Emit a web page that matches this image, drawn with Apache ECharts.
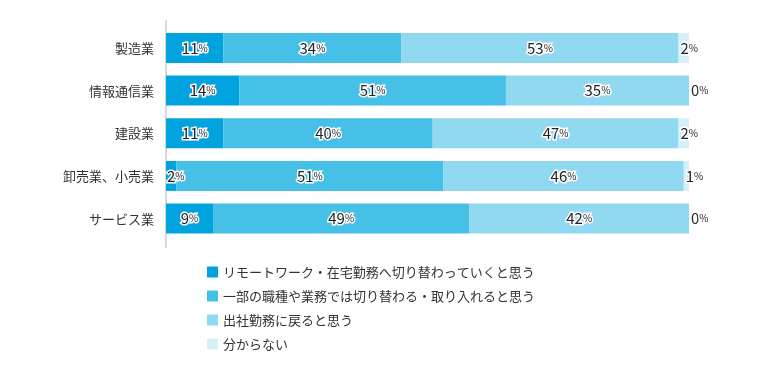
<!DOCTYPE html>
<html><head><meta charset="utf-8">
<script src="https://cdn.jsdelivr.net/npm/echarts@6/dist/echarts.min.js"></script>
<style>html,body{margin:0;padding:0;background:#fff}#c{width:760px;height:370px}</style>
</head><body><div id="c"></div>
<script>
var categories = ['製造業', '情報通信業', '建設業', '卸売業、小売業', 'サービス業'];
var seriesNames = ['リモートワーク・在宅勤務へ切り替わっていくと思う', '一部の職種や業務では切り替わる・取り入れると思う', '出社勤務に戻ると思う', '分からない'];
var remote = [11, 14, 11, 2, 9];
var partial = [34, 51, 40, 51, 49];
var office = [53, 35, 47, 46, 42];
var unknown = [2, 0, 2, 1, 0];
var colors = ['#00a3dd', '#47c0e8', '#91d8f1', '#d6f0fa'];

var font = '"Noto Sans CJK JP", "Noto Sans", sans-serif';
function makeSeries(name, vals, idx) {
  return {
    name: name, type: 'bar', stack: 'all', barWidth: 30,
    itemStyle: { color: colors[idx] },
    label: {
      show: true,
      position: idx === 3 ? 'insideLeft' : 'inside',
      distance: 2,
      formatter: '{n|{c}}{p|%}',
      textBorderColor: '#fff', textBorderWidth: 3,
      rich: {
        n: { fontSize: 15, color: '#222', fontFamily: font, textBorderColor: '#fff', textBorderWidth: 3 },
        p: { fontSize: 10, color: '#222', fontFamily: font, textBorderColor: '#fff', textBorderWidth: 3 }
      }
    },
    data: vals.map(function (v) {
      var d = { value: v };
      if (idx === 0 && v < 5) d.label = { position: 'insideLeft', distance: 1 };
      return d;
    })
  };
}
var chart = echarts.init(document.getElementById('c'), null, { renderer: 'canvas' });
chart.setOption({
  animation: false,
  color: colors,
  textStyle: { fontFamily: font },
  grid: { left: 166, top: 26.6, width: 523, height: 213.3, containLabel: false },
  xAxis: { type: 'value', min: 0, max: 100, show: false },
  yAxis: {
    type: 'category', data: categories, inverse: true,
    axisLine: { show: false }, axisTick: { show: false },
    axisLabel: { color: '#333', fontSize: 13, margin: 12, fontFamily: font }
  },
  legend: {
    orient: 'vertical', left: 202, top: 260,
    itemWidth: 11, itemHeight: 11, itemGap: 10,
    icon: 'rect',
    textStyle: { fontSize: 13, color: '#333', fontFamily: font, lineHeight: 14 },
    data: seriesNames
  },
  graphic: [{
    type: 'line', shape: { x1: 166, y1: 20, x2: 166, y2: 248 },
    style: { stroke: '#b5b5b5', lineWidth: 1 }
  }],
  series: [
    makeSeries(seriesNames[0], remote, 0),
    makeSeries(seriesNames[1], partial, 1),
    makeSeries(seriesNames[2], office, 2),
    makeSeries(seriesNames[3], unknown, 3)
  ]
});
</script></body></html>
